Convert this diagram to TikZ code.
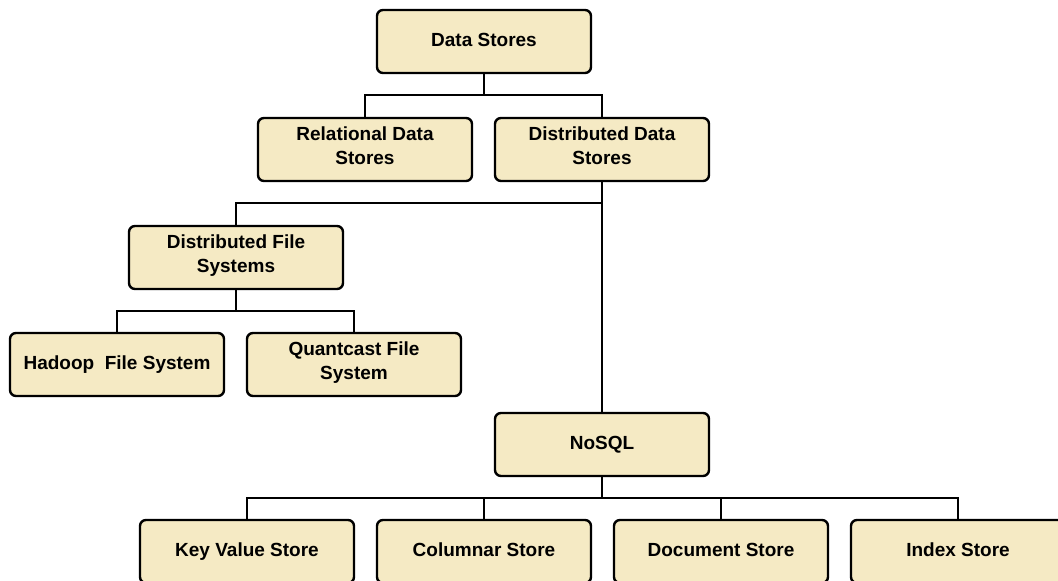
\documentclass[tikz,border=0pt]{standalone}
\usepackage{fontspec}
\setmainfont{Liberation Sans}
\definecolor{boxfill}{HTML}{F5EAC4}
\def\dsdepth{6.5pt}
\begin{document}
\begin{tikzpicture}[x=1pt,y=-1pt,
  dsbox/.style={draw=black, line width=2.4pt, fill=boxfill, rounded corners=6pt,
    minimum width=214pt, minimum height=63pt, align=center, inner sep=2pt,
    font=\fontsize{19}{24}\selectfont\bfseries,
    execute at begin node=\strut,
    execute at end node={\rule[-\dsdepth]{0pt}{\dsdepth}}},
  twoline/.style={/utils/exec=\def\dsdepth{4.5pt}},
  conn/.style={draw=black, line width=1.8pt}]
\clip (0,0) rectangle (1058,581);
\useasboundingbox (0,0) rectangle (1058,581);
\node[dsbox] (ds) at (484,41.5) {Data Stores};
\node[dsbox,twoline] (rel) at (365,149.5) {Relational Data\\Stores};
\node[dsbox,twoline] (dist) at (602,149.5) {Distributed Data\\Stores};
\node[dsbox,twoline] (dfs) at (236,257.5) {Distributed File\\Systems};
\node[dsbox] (hfs) at (117,364.5) {Hadoop\ \ File System};
\node[dsbox,twoline] (qfs) at (354,364.5) {Quantcast File\\System};
\node[dsbox] (nosql) at (602,444.5) {NoSQL};
\node[dsbox] (kv) at (247,551.5) {Key Value Store};
\node[dsbox] (col) at (484,551.5) {Columnar Store};
\node[dsbox] (doc) at (721,551.5) {Document Store};
\node[dsbox] (idx) at (958,551.5) {Index Store};
\draw[conn] (ds.south) -- ++(0,21) -| (rel.north);
\draw[conn] (ds.south) ++(0,21) -| (dist.north);
\draw[conn] (dist.south) -- (nosql.north);
\draw[conn] (dist.south) ++(0,21) -| (dfs.north);
\draw[conn] (dfs.south) -- ++(0,21) -| (hfs.north);
\draw[conn] (dfs.south) ++(0,21) -| (qfs.north);
\draw[conn] (nosql.south) -- ++(0,21) -| (kv.north);
\draw[conn] (nosql.south) ++(0,21) -| (col.north);
\draw[conn] (nosql.south) ++(0,21) -| (doc.north);
\draw[conn] (nosql.south) ++(0,21) -| (idx.north);
\end{tikzpicture}
\end{document}
